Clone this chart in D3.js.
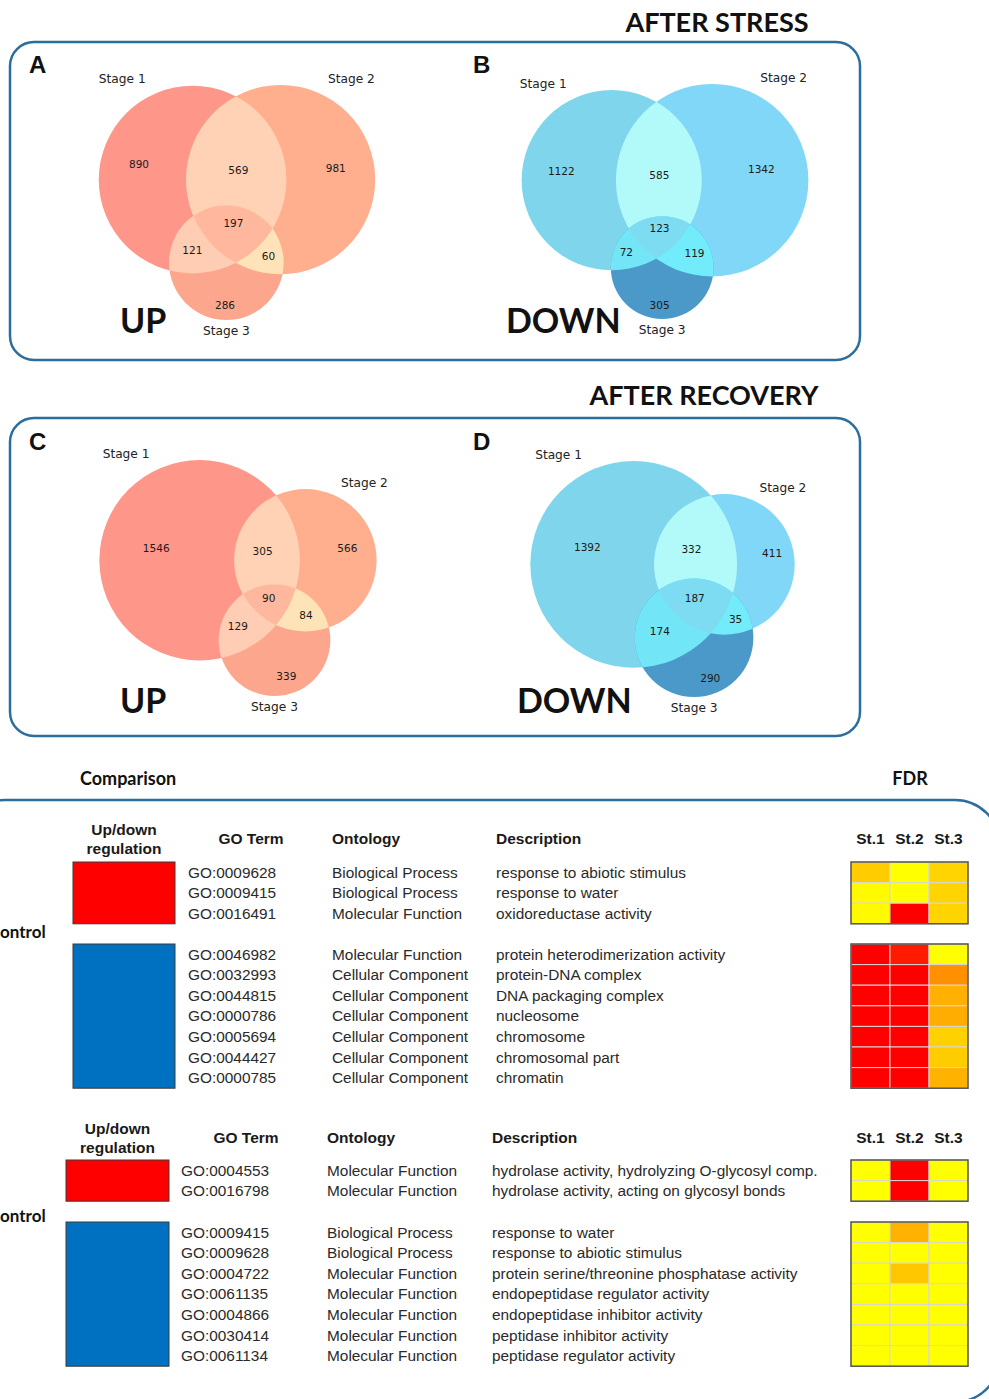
<!DOCTYPE html>
<html>
<head>
<meta charset="utf-8">
<script src="https://cdn.jsdelivr.net/npm/d3@7"></script>
<style>
  html, body { margin: 0; padding: 0; background: #fff; }
  svg { display: block; }
</style>
</head>
<body>
<svg id="fig" width="989" height="1399"></svg>
<script>
// ---------- Venn data: region counts [1 only, 2 only, 3 only, 1&2, 1&3, 2&3, 1&2&3] ----------
const stageLabels = ["Stage 1", "Stage 2", "Stage 3"];
const stressUp = [890, 981, 286, 569, 121, 60, 197];
const stressDown = [1122, 1342, 305, 585, 72, 119, 123];
const recoveryUp = [1546, 566, 339, 305, 129, 84, 90];
const recoveryDown = [1392, 411, 290, 332, 174, 35, 187];

// ---------- GO enrichment tables ----------
const stageColumns = ["St.1", "St.2", "St.3"];
const tableHeaders = ["GO Term", "Ontology", "Description"];
const comparisonLabels = ["ontrol", "ontrol"];

const stressUpTerms = ["GO:0009628", "GO:0009415", "GO:0016491"];
const stressUpOntology = ["Biological Process", "Biological Process", "Molecular Function"];
const stressUpDescription = ["response to abiotic stimulus", "response to water", "oxidoreductase activity"];
// FDR colour level per stage (0 = red / lowest FDR, 1 = yellow)
const stressUpFdr = [[0.80, 1.00, 0.83], [0.98, 1.00, 0.83], [0.98, 0.00, 0.83]];

const stressDownTerms = ["GO:0046982", "GO:0032993", "GO:0044815", "GO:0000786", "GO:0005694", "GO:0044427", "GO:0000785"];
const stressDownOntology = ["Molecular Function", "Cellular Component", "Cellular Component", "Cellular Component", "Cellular Component", "Cellular Component", "Cellular Component"];
const stressDownDescription = ["protein heterodimerization activity", "protein-DNA complex", "DNA packaging complex", "nucleosome", "chromosome", "chromosomal part", "chromatin"];
const stressDownFdr = [[0.00, 0.10, 1.00], [0.00, 0.00, 0.57], [0.00, 0.00, 0.69], [0.00, 0.00, 0.68], [0.00, 0.00, 0.82], [0.00, 0.00, 0.80], [0.00, 0.00, 0.70]];

const recoveryUpTerms = ["GO:0004553", "GO:0016798"];
const recoveryUpOntology = ["Molecular Function", "Molecular Function"];
const recoveryUpDescription = ["hydrolase activity, hydrolyzing O-glycosyl comp.", "hydrolase activity, acting on glycosyl bonds"];
const recoveryUpFdr = [[1.00, 0.00, 1.00], [1.00, 0.00, 1.00]];

const recoveryDownTerms = ["GO:0009415", "GO:0009628", "GO:0004722", "GO:0061135", "GO:0004866", "GO:0030414", "GO:0061134"];
const recoveryDownOntology = ["Biological Process", "Biological Process", "Molecular Function", "Molecular Function", "Molecular Function", "Molecular Function", "Molecular Function"];
const recoveryDownDescription = ["response to water", "response to abiotic stimulus", "protein serine/threonine phosphatase activity", "endopeptidase regulator activity", "endopeptidase inhibitor activity", "peptidase inhibitor activity", "peptidase regulator activity"];
const recoveryDownFdr = [[1.00, 0.70, 1.00], [1.00, 1.00, 1.00], [1.00, 0.78, 1.00], [1.00, 1.00, 1.00], [1.00, 1.00, 1.00], [1.00, 1.00, 1.00], [1.00, 1.00, 1.00]];

// ---------- styles ----------
const FRAME = "#2b6e9e";
const F_BOLD = "Lato, 'Open Sans', sans-serif";
const F_VENN = "'DejaVu Sans', sans-serif";
const F_TABLE = "'Liberation Sans', Arial, sans-serif";
const warm = { single: ["#fe968a", "#ffae8e", "#fca78d"], p12: "#ffd2b5", p13: "#ffccb4", p23: "#ffe3b8", p123: "#ffb89d" };
const cool = { single: ["#7fd6ec", "#80d7f8", "#4a99c8"], p12: "#b2f9f9", p13: "#72e6f7", p23: "#72ebfb", p123: "#7edcf2" };

const svg = d3.select("#fig");
const defs = svg.append("defs");

// ---------- frames and titles ----------
function frame(x, y, w, h, r) {
  svg.append("rect").attr("x", x).attr("y", y).attr("width", w).attr("height", h)
    .attr("rx", r).attr("ry", r).attr("fill", "none")
    .attr("stroke", FRAME).attr("stroke-width", 2.5);
}
frame(10, 42, 850, 318, 24);
frame(10, 418, 850, 318, 24);
frame(-40, 800, 1040, 602, 45);

function boldText(str, x, y, size, anchor, family) {
  return svg.append("text").attr("x", x).attr("y", y).text(str)
    .attr("font-family", family || F_BOLD).attr("font-weight", "bold")
    .attr("font-size", size).attr("text-anchor", anchor || "start").attr("fill", "#111");
}
boldText("AFTER STRESS", 717, 32, 27, "middle");
boldText("AFTER RECOVERY", 704, 405, 27, "middle");
boldText("A", 29, 73, 24, "start", "'Liberation Sans', Arial, sans-serif");
boldText("B", 473, 73, 24, "start", "'Liberation Sans', Arial, sans-serif");
boldText("C", 29, 450, 24, "start", "'Liberation Sans', Arial, sans-serif");
boldText("D", 473, 450, 24, "start", "'Liberation Sans', Arial, sans-serif");

// ---------- area-proportional three-set Venn ----------
function lensArea(r1, r2, d) {
  if (d >= r1 + r2) return 0;
  if (d <= Math.abs(r1 - r2)) return Math.PI * Math.min(r1, r2) ** 2;
  const a1 = Math.acos((d * d + r1 * r1 - r2 * r2) / (2 * d * r1));
  const a2 = Math.acos((d * d + r2 * r2 - r1 * r1) / (2 * d * r2));
  return r1 * r1 * a1 + r2 * r2 * a2 -
    0.5 * Math.sqrt((-d + r1 + r2) * (d + r1 - r2) * (d - r1 + r2) * (d + r1 + r2));
}
function distanceForOverlap(r1, r2, area) {
  let lo = Math.abs(r1 - r2), hi = r1 + r2;
  for (let i = 0; i < 80; i++) {
    const mid = (lo + hi) / 2;
    if (lensArea(r1, r2, mid) > area) lo = mid; else hi = mid;
  }
  return (lo + hi) / 2;
}

// label point: midpoints of the boundary arcs, weighted by their angular span
function regionLabelPoint(circles, inside) {
  let sw = 0, sx = 0, sy = 0;
  circles.forEach((c, k) => {
    let angs = [];
    circles.forEach((o, j) => {
      if (j === k) return;
      const dx = o.x - c.x, dy = o.y - c.y, d = Math.hypot(dx, dy);
      if (d >= c.r + o.r || d <= Math.abs(c.r - o.r)) return;
      const a = (d * d + c.r * c.r - o.r * o.r) / (2 * d);
      const base = Math.atan2(dy, dx), off = Math.acos(a / c.r);
      angs.push(base - off, base + off);
    });
    angs = angs.map(a => ((a % (2 * Math.PI)) + 2 * Math.PI) % (2 * Math.PI)).sort((a, b) => a - b);
    if (!angs.length) angs = [0];
    for (let i = 0; i < angs.length; i++) {
      const a0 = angs[i], a1 = i + 1 < angs.length ? angs[i + 1] : angs[0] + 2 * Math.PI;
      const m = (a0 + a1) / 2;
      const px = c.x + c.r * Math.cos(m), py = c.y + c.r * Math.sin(m);
      const ok = circles.every((o, j) => j === k || ((Math.hypot(px - o.x, py - o.y) < o.r) === inside[j]));
      if (ok) {
        const w = (a1 - a0) * 180 / Math.PI;
        sw += w; sx += w * px; sy += w * py;
      }
    }
  });
  return [sx / sw, sy / sw];
}

const regionMembership = [
  [true, false, false], [false, true, false], [false, false, true],
  [true, true, false], [true, false, true], [false, true, true], [true, true, true]
];

function drawVenn(id, counts, pal, cfg) {
  const [n1, n2, n3, n12, n13, n23, n123] = counts;
  const totals = [n1 + n12 + n13 + n123, n2 + n12 + n23 + n123, n3 + n13 + n23 + n123];
  const ru = totals.map(s => Math.sqrt(s / Math.PI));
  const d12 = distanceForOverlap(ru[0], ru[1], n12 + n123);
  const d13 = distanceForOverlap(ru[0], ru[2], n13 + n123);
  const d23 = distanceForOverlap(ru[1], ru[2], n23 + n123);
  const cx3 = (d13 * d13 - d23 * d23 + d12 * d12) / (2 * d12);
  const cy3 = Math.sqrt(Math.max(0, d13 * d13 - cx3 * cx3));
  const centers = [[0, 0], [d12, 0], [cx3, cy3]];

  const xMin = d3.min(centers, (c, i) => c[0] - ru[i]);
  const xMax = d3.max(centers, (c, i) => c[0] + ru[i]);
  const yMin = d3.min(centers, (c, i) => c[1] - ru[i]);
  const yMax = d3.max(centers, (c, i) => c[1] + ru[i]);
  const k = cfg.height / (yMax - yMin);
  const halfW = k * (xMax - xMin) / 2;
  const x = d3.scaleLinear().domain([xMin, xMax]).range([cfg.cx - halfW, cfg.cx + halfW]);
  const y = d3.scaleLinear().domain([yMin, yMax]).range([cfg.top, cfg.top + cfg.height]);
  const circles = centers.map((c, i) => ({ x: x(c[0]), y: y(c[1]), r: ru[i] * k }));

  circles.forEach((c, i) => {
    defs.append("clipPath").attr("id", `${id}-c${i}`)
      .append("circle").attr("cx", c.x).attr("cy", c.y).attr("r", c.r);
  });

  const g = svg.append("g");
  const disc = (sel, c, fill) => sel.append("circle").attr("cx", c.x).attr("cy", c.y).attr("r", c.r).attr("fill", fill);
  circles.forEach((c, i) => disc(g, c, pal.single[i]));
  [[0, 1, pal.p12], [0, 2, pal.p13], [1, 2, pal.p23]].forEach(([a, b, col]) => {
    disc(g.append("g").attr("clip-path", `url(#${id}-c${a})`), circles[b], col);
  });
  disc(g.append("g").attr("clip-path", `url(#${id}-c0)`).append("g").attr("clip-path", `url(#${id}-c1)`), circles[2], pal.p123);

  // region counts
  counts.forEach((n, i) => {
    const [lx, ly] = regionLabelPoint(circles, regionMembership[i]);
    g.append("text").attr("x", lx).attr("y", ly + 4).text(n)
      .attr("text-anchor", "middle").attr("font-family", F_VENN)
      .attr("font-size", 10.5).attr("fill", "#1a1a1a");
  });

  // set labels
  const setText = (str, lx, ly, anchor) => g.append("text").attr("x", lx).attr("y", ly).text(str)
    .attr("text-anchor", anchor).attr("font-family", F_VENN).attr("font-size", 12.2).attr("fill", "#222");
  setText(stageLabels[0], circles[0].x - circles[0].r / 2, circles[0].y - circles[0].r - 2.5, "end");
  setText(stageLabels[1], circles[1].x + circles[1].r / 2, circles[1].y - circles[1].r - 2.5, "start");
  setText(stageLabels[2], circles[2].x, circles[2].y + circles[2].r * 1.1 + 9.5, "middle");

  boldText(cfg.tag, cfg.tagX, cfg.tagY, 34, "start");
}

drawVenn("va", stressUp, warm, { cx: 237, top: 85, height: 235, tag: "UP", tagX: 120, tagY: 333 });
drawVenn("vb", stressDown, cool, { cx: 665, top: 84, height: 235, tag: "DOWN", tagX: 506, tagY: 333 });
drawVenn("vc", recoveryUp, warm, { cx: 238, top: 460, height: 236, tag: "UP", tagX: 120, tagY: 713 });
drawVenn("vd", recoveryDown, cool, { cx: 662.5, top: 461, height: 236, tag: "DOWN", tagX: 517, tagY: 713 });

// ---------- enrichment tables ----------
boldText("Comparison", 80, 785, 18, "start");
boldText("FDR", 910, 785, 18, "middle");

const fdrColor = d3.scaleLinear().domain([0, 1]).range(["#ff0000", "#ffff00"]);
const colX = d3.scaleBand().domain(stageColumns).range([851, 968]);

function drawBlock(rows, fdr, top, cfg, fill) {
  const n = rows.terms.length;
  const rowY = d3.scaleBand().domain(d3.range(n)).range([top, top + n * cfg.rowH]);
  svg.append("rect").attr("x", cfg.regX).attr("y", top).attr("width", cfg.regW).attr("height", n * cfg.rowH)
    .attr("fill", fill).attr("stroke", "#3a3a3a").attr("stroke-width", 1);
  const t = (str, xx, i) => svg.append("text").attr("x", xx).attr("y", rowY(i) + rowY.bandwidth() / 2 + 5.3)
    .text(str).attr("font-family", F_TABLE).attr("font-size", 15.4).attr("fill", "#2a2a2a");
  for (let i = 0; i < n; i++) {
    t(rows.terms[i], cfg.goX, i);
    t(rows.ontology[i], cfg.ontX, i);
    t(rows.description[i], cfg.descX, i);
    stageColumns.forEach((s, j) => {
      svg.append("rect").attr("x", colX(s)).attr("y", rowY(i))
        .attr("width", colX.bandwidth()).attr("height", rowY.bandwidth())
        .attr("fill", fdrColor(fdr[i][j])).attr("stroke", "#d6d6d6").attr("stroke-width", 1);
    });
  }
  svg.append("rect").attr("x", colX.range()[0]).attr("y", top).attr("width", colX.range()[1] - colX.range()[0])
    .attr("height", n * cfg.rowH).attr("fill", "none").attr("stroke", "#555").attr("stroke-width", 1.5);
}

function drawTable(cfg, up, upFdr, down, downFdr) {
  const h = (str, xx, yy, anchor) => svg.append("text").attr("x", xx).attr("y", yy).text(str)
    .attr("font-family", F_TABLE).attr("font-weight", "bold").attr("font-size", 15.5)
    .attr("text-anchor", anchor || "start").attr("fill", "#1a1a1a");
  h("Up/down", cfg.regX + cfg.regW / 2, cfg.headY - 3, "middle");
  h("regulation", cfg.regX + cfg.regW / 2, cfg.headY + 16, "middle");
  h(tableHeaders[0], cfg.goHeadX, cfg.headY + 6, "middle");
  h(tableHeaders[1], cfg.ontX, cfg.headY + 6);
  h(tableHeaders[2], cfg.descX, cfg.headY + 6);
  stageColumns.forEach(s => h(s, colX(s) + colX.bandwidth() / 2, cfg.headY + 6, "middle"));
  boldText(cfg.side, 0, cfg.sideY + 6, 17, "start");
  drawBlock(up, upFdr, cfg.upTop, cfg, "#ff0000");
  drawBlock(down, downFdr, cfg.downTop, cfg, "#0070c0");
}

drawTable(
  { regX: 73, regW: 102, goX: 188, goHeadX: 251, ontX: 332, descX: 496, headY: 838,
    upTop: 862, downTop: 944, rowH: 20.6, side: comparisonLabels[0], sideY: 932 },
  { terms: stressUpTerms, ontology: stressUpOntology, description: stressUpDescription }, stressUpFdr,
  { terms: stressDownTerms, ontology: stressDownOntology, description: stressDownDescription }, stressDownFdr
);
drawTable(
  { regX: 66, regW: 103, goX: 181, goHeadX: 246, ontX: 327, descX: 492, headY: 1137,
    upTop: 1160, downTop: 1222, rowH: 20.6, side: comparisonLabels[1], sideY: 1216 },
  { terms: recoveryUpTerms, ontology: recoveryUpOntology, description: recoveryUpDescription }, recoveryUpFdr,
  { terms: recoveryDownTerms, ontology: recoveryDownOntology, description: recoveryDownDescription }, recoveryDownFdr
);
</script>
</body>
</html>
